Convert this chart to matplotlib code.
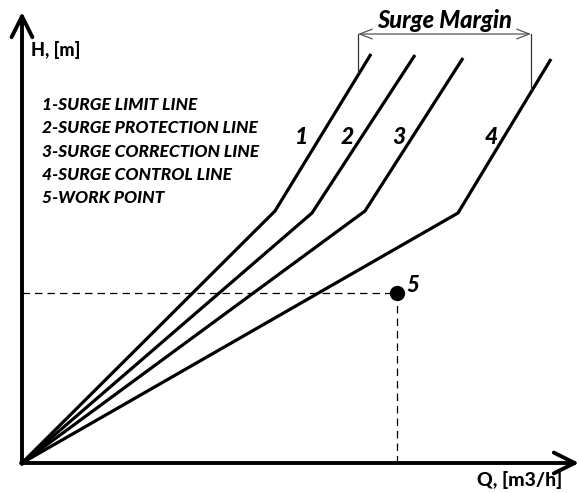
import matplotlib.pyplot as plt

# compressor map sketch, arbitrary units (Q horizontal, H vertical)
line1_q = [0, 253, 349]
line1_h = [0, 252, 409]
line2_q = [0, 290, 393]
line2_h = [0, 250, 408]
line3_q = [0, 343, 441]
line3_h = [0, 252, 405]
line4_q = [0, 436, 529]
line4_h = [0, 250, 404]

work_q, work_h = 375, 170

margin_left, margin_right = 336, 509
margin_h = 429
margin_left_bottom, margin_right_bottom = 391, 373

legend_items = [
    "1-SURGE LIMIT LINE",
    "2-SURGE PROTECTION LINE",
    "3-SURGE CORRECTION LINE",
    "4-SURGE CONTROL LINE",
    "5-WORK POINT",
]
line_labels = ["1", "2", "3", "4"]
label_q = [280, 325, 377, 469]
label_h = 326

fam = ["Lato", "DejaVu Sans"]
wt = "black"

fig = plt.figure(figsize=(5.79, 4.93), dpi=100)
ax = fig.add_axes([0, 0, 1, 1])
ax.set_xlim(-22, 557)
ax.set_ylim(-30, 463)
ax.axis("off")

# axes with arrows
ax.annotate("", xy=(0, 451), xytext=(0, -1),
            arrowprops=dict(arrowstyle="->,head_length=1.5,head_width=0.75", lw=2.8, color="black",
                            shrinkA=0, shrinkB=0))
ax.annotate("", xy=(557, 0), xytext=(-1, 0),
            arrowprops=dict(arrowstyle="->,head_length=1.5,head_width=0.75", lw=2.8, color="black",
                            shrinkA=0, shrinkB=0))

for q, h in [(line1_q, line1_h), (line2_q, line2_h), (line3_q, line3_h), (line4_q, line4_h)]:
    ax.plot(q, h, color="black", lw=2.3, solid_capstyle="butt")

# work point with dashed guides
ax.plot([0, work_q], [work_h, work_h], color="black", lw=0.9, ls=(0, (6, 4)))
ax.plot([work_q, work_q], [0, work_h], color="black", lw=0.9, ls=(0, (6, 4)))
ax.plot(work_q, work_h, "o", color="black", ms=10)
ax.text(work_q + 9, work_h + 8, "5", fontsize=16, style="italic", weight=wt,
        family=fam, ha="left", va="center")

# surge margin bracket
ax.plot([margin_left, margin_left], [margin_h, margin_left_bottom], color="#333333", lw=0.9)
ax.plot([margin_right, margin_right], [margin_h, margin_right_bottom], color="#333333", lw=0.9)
ax.annotate("", xy=(margin_left, margin_h), xytext=(margin_right, margin_h),
            arrowprops=dict(arrowstyle="<->,head_length=0.9,head_width=0.35", lw=0.9, color="#555555",
                            shrinkA=0, shrinkB=0))
ax.text((margin_left + margin_right) / 2 + 0, margin_h + 13, "Surge Margin", fontsize=17,
        style="italic", weight=wt, family=fam, ha="center", va="center")

for lab, q in zip(line_labels, label_q):
    ax.text(q, label_h, lab, fontsize=16.5, style="italic", weight=wt, family=fam,
            ha="center", va="center")

for i, item in enumerate(legend_items):
    ax.text(20, 358 - i * 23.3, item, fontsize=12.5, style="italic", weight=wt, family=fam,
            ha="left", va="center")

ax.text(9, 413, "H, [m]", fontsize=13, weight=wt, family=fam, ha="left", va="center")
ax.text(498, -17, "Q, [m3/h]", fontsize=14, weight=wt, family=fam, ha="center", va="center")

fig.savefig("out.png", dpi=100)
